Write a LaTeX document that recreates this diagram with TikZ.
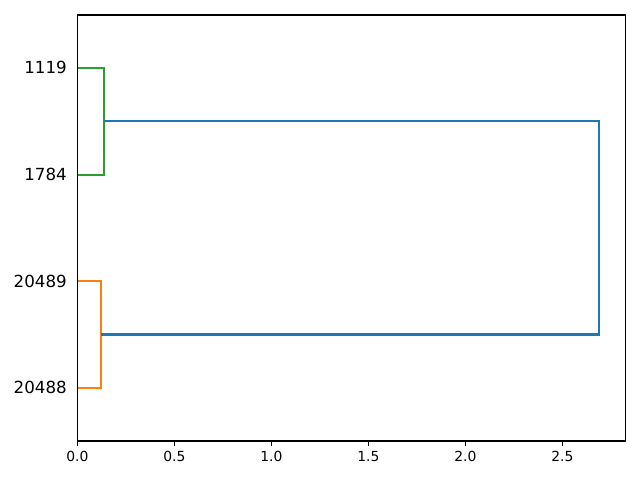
\documentclass[tikz,border=0pt]{standalone}
\usepackage{fontspec}
\setmainfont{DejaVu Sans}
\definecolor{cz}{HTML}{1F77B4}
\definecolor{co}{HTML}{FF7F0E}
\definecolor{cg}{HTML}{2CA02C}
\begin{document}
\begin{tikzpicture}[x=0.72pt,y=-0.72pt,
  link/.style={line width=1.5pt,line cap=butt,line join=miter},
  ylab/.style={anchor=east,inner sep=0pt,font=\fontsize{12}{14}\selectfont},
  xlab/.style={anchor=north,inner sep=0pt,font=\fontsize{10}{12}\selectfont},
  tick/.style={line width=0.8pt}]
\useasboundingbox (0,0) rectangle (640,480);
% leaf coordinates
\coordinate (l1) at (77.3,67.7);
\coordinate (l2) at (77.3,174.7);
\coordinate (l3) at (77.3,281.3);
\coordinate (l4) at (77.3,387.7);
% links
\draw[link,cg] (l1) -- (104,67.7) -- (104,174.7) -- (l2);
\draw[link,co] (l3) -- (100.8,281.3) -- (100.8,334.5) coordinate (o) -- (100.8,387.7) -- (l4);
\coordinate (g) at (104,121.2);
\draw[link,cz] (g) -- (599,121.2) -- (599,334.5) -- (o);
% axes frame
\draw[line width=0.8pt] (77.3,15) rectangle (625.3,441);
% labels
\node[ylab] (t1) at (67,67.7) {1119};
\node[ylab] (t2) at (67,174.7) {1784};
\node[ylab] (t3) at (67,281.3) {20489};
\node[ylab] (t4) at (67,387.7) {20488};
\foreach \v/\t [count=\i] in {0/0.0,0.5/0.5,1/1.0,1.5/1.5,2/2.0,2.5/2.5}{
  \draw[tick] ({77.3+194*\v},441) -- ({77.3+194*\v},445.9);
  \node[xlab] (x\i) at ({77.3+194*\v},450.8) {\t};
}
\end{tikzpicture}
\end{document}
